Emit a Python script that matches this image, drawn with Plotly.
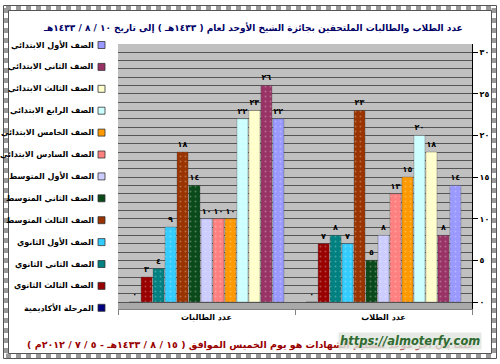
import plotly.graph_objects as go

# ---------------- data ----------------
categories = ["عدد الطالبات", "عدد الطلاب"]

series_names = [
    "الصف الأول الابتدائي",
    "الصف الثاني الابتدائي",
    "الصف الثالث الابتدائي",
    "الصف الرابع الابتدائي",
    "الصف الخامس الابتدائي",
    "الصف السادس الابتدائي",
    "الصف الأول المتوسط",
    "الصف الثاني المتوسط",
    "الصف الثالث المتوسط",
    "الصف الأول الثانوي",
    "الصف الثاني الثانوي",
    "الصف الثالث الثانوي",
    "المرحلة الأكاديمية",
]
girls = [22, 26, 23, 22, 10, 10, 10, 14, 18, 9, 4, 3, 0]
boys = [14, 8, 18, 20, 15, 13, 8, 5, 23, 7, 8, 7, 0]

series_colors = [
    "#9999FF", "#993366", "#FFFFCC", "#CCFFFF", "#FF9900", "#FF8080",
    "#CCCCFF", "#0A4A1A", "#993300", "#33CCFF", "#008080", "#990000",
    "#000080",
]

y_tick_values = [0, 5, 10, 15, 20, 25, 30]

title_text = "عدد الطلاب والطالبات الملتحقين بجائزة الشيخ الأوحد لعام ( ١٤٣٣هـ ) إلى تاريخ ١٠ / ٨ / ١٤٣٣هـ"
footer_text = "علماً بأن آخر موعد لتسليم الشهادات هو يوم الخميس الموافق ( ١٥ / ٨ / ١٤٣٣هـ - ٥ / ٧ / ٢٠١٢م )"
watermark_text = "https://almoterfy.com"

# ---------------- helpers ----------------
AR = str.maketrans("0123456789", "٠١٢٣٤٥٦٧٨٩")


def ar(n):
    return str(n).translate(AR)


W, H = 500, 364
PX0, PX1, PY0, PY1 = 118, 472, 44, 309  # plot area in pixels
ZERO_PX, UNIT_PX = 302, 8.33            # where value 0 sits, pixels per unit
Y_MIN = -(PY1 - ZERO_PX) / UNIT_PX
Y_MAX = (ZERO_PX - PY0) / UNIT_PX


def px(x):
    return x / W


def py(y):
    return 1 - y / H


FONT = "DejaVu Sans"

fig = go.Figure()

for i in reversed(range(len(series_names))):
    vals = [girls[i], boys[i]]
    fig.add_trace(go.Bar(
        x=categories,
        y=vals,
        name=series_names[i],
        marker=dict(
            color=series_colors[i],
            line=dict(color="rgba(60,60,60,0.6)", width=0.5),
            pattern=dict(shape=".", fgcolor="rgba(255,255,255,0.55)", size=5, solidity=0.12),
        ),
        text=["<b>" + ar(v) + "</b>" for v in vals],
        textposition="outside",
        constraintext="none",
        cliponaxis=False,
        textfont=dict(family=FONT, size=8, color="black"),
        showlegend=False,
    ))

shapes = []
annotations = []


def hline(x0, x1, y, color, width, dash="solid"):
    shapes.append(dict(type="line", xref="paper", yref="paper",
                       x0=px(x0), x1=px(x1), y0=py(y), y1=py(y),
                       line=dict(color=color, width=width, dash=dash)))


def vline(x, y0, y1, color, width, dash="solid"):
    shapes.append(dict(type="line", xref="paper", yref="paper",
                       x0=px(x), x1=px(x), y0=py(y0), y1=py(y1),
                       line=dict(color=color, width=width, dash=dash)))


# floor strip under the bars
shapes.append(dict(type="rect", xref="paper", yref="paper", layer="between",
                   x0=px(PX0), x1=px(PX1), y0=py(PY1), y1=py(ZERO_PX),
                   fillcolor="#A9A9A9", line=dict(width=0)))

# decorative frame: thick dotted band between two thin lines
L, R, T, B = 6, 494, 8, 356
for off, col, wd, ds in [(0, "#9a9a9a", 5, "dot"), (-2.5, "#555555", 1, "solid"), (2.5, "#555555", 1, "solid")]:
    hline(L + off, R - off, T + off, col, wd, ds)
    hline(L + off, R - off, B - off, col, wd, ds)
    vline(L + off, T + off, B - off, col, wd, ds)
    vline(R - off, T + off, B - off, col, wd, ds)

# custom legend (symbol right of right-aligned text)
for i, (name, col) in enumerate(zip(series_names, series_colors)):
    yc = 45 + i * 21.9
    shapes.append(dict(type="rect", xref="paper", yref="paper",
                       x0=px(98), x1=px(105), y0=py(yc + 3.5), y1=py(yc - 3.5),
                       fillcolor=col, line=dict(color="#333", width=0.8)))
    annotations.append(dict(xref="paper", yref="paper", x=px(96), y=py(yc),
                            xanchor="right", yanchor="middle", showarrow=False,
                            text="<b>" + name + "</b>",
                            font=dict(family=FONT, size=8, color="black")))

# title
annotations.append(dict(xref="paper", yref="paper", x=px(253), y=py(28),
                        xanchor="center", yanchor="middle", showarrow=False,
                        text="<b>" + title_text + "</b>",
                        font=dict(family=FONT, size=9, color="#000066")))
# footer
annotations.append(dict(xref="paper", yref="paper", x=px(250), y=py(344),
                        xanchor="center", yanchor="middle", showarrow=False,
                        text="<b>" + footer_text + "\u200f</b>",
                        font=dict(family=FONT, size=9.5, color="#990000")))
# watermark
annotations.append(dict(xref="paper", yref="paper", x=px(410), y=py(341),
                        xanchor="center", yanchor="middle", showarrow=False,
                        text="<b><i>" + watermark_text + "</i></b>",
                        bgcolor="rgba(225,230,225,0.85)", borderpad=1,
                        font=dict(family=FONT, size=11.5, color="#2f6b2f")))

fig.update_layout(
    width=W, height=H,
    margin=dict(l=0, r=0, t=0, b=0, pad=0),
    paper_bgcolor="white",
    plot_bgcolor="#C0C0C0",
    barmode="group",
    bargap=0.12,
    bargroupgap=0.08,
    showlegend=False,
    font=dict(family=FONT, size=8, color="black"),
    xaxis=dict(
        domain=[PX0 / W, PX1 / W],
        showgrid=False, showline=True, linecolor="#808080", linewidth=1,
        ticks="outside", tickson="boundaries", ticklen=5, tickcolor="#808080",
        tickfont=dict(family=FONT, size=8, color="black"),
        ticktext=["<b>" + c + "</b>" for c in categories], tickvals=categories,
        automargin=False,
    ),
    yaxis=dict(
        domain=[1 - PY1 / H, 1 - PY0 / H],
        side="right", range=[Y_MIN, Y_MAX],
        tickvals=y_tick_values, ticktext=["<b>" + ar(v) + "</b>" for v in y_tick_values],
        ticks="outside", ticklen=5, tickcolor="black",
        tickfont=dict(family=FONT, size=8, color="black"),
        showgrid=True, gridcolor="#555555", gridwidth=1,
        minor=dict(tick0=0, dtick=1, showgrid=True, gridcolor="#555555", gridwidth=1),
        showline=True, linecolor="black", linewidth=1,
        zeroline=False, automargin=False,
    ),
    shapes=shapes,
    annotations=annotations,
)

fig.write_html("out.html", config={"displayModeBar": False},
               post_script="document.body.style.margin='0px';")
